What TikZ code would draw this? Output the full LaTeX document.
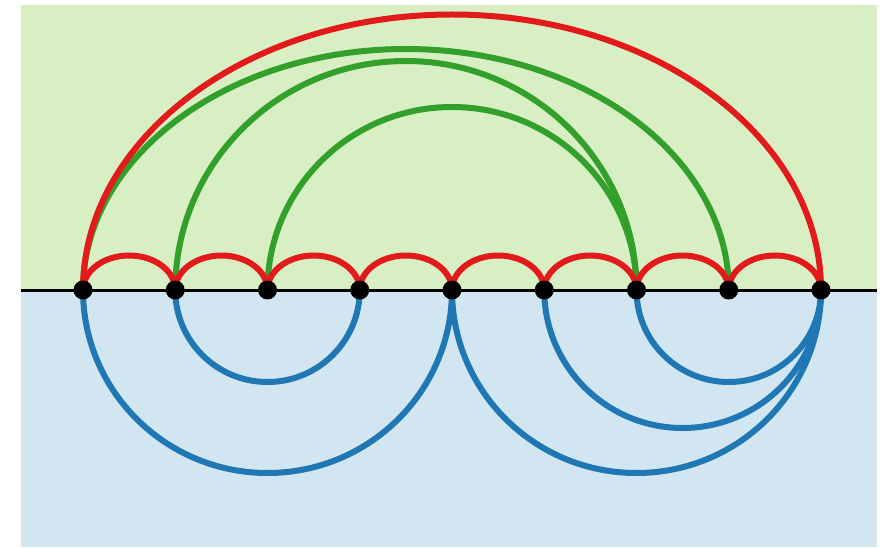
\documentclass[tikz,border=0pt]{standalone}
\begin{document}
\begin{tikzpicture}[x=1pt,y=1pt,
  redarc/.style={draw={rgb,255:red,227;green,26;blue,28},line width=6pt},
  greenarc/.style={draw={rgb,255:red,51;green,160;blue,44},line width=6pt},
  bluearc/.style={draw={rgb,255:red,31;green,120;blue,180},line width=6pt},
  pt/.style={circle,fill=black,inner sep=0pt,minimum size=19pt}]
\useasboundingbox (0,0) rectangle (894,547);
\fill[fill={rgb,255:red,216;green,239;blue,196}] (21,257) rectangle (877,542);
\fill[fill={rgb,255:red,210;green,230;blue,241}] (21,0) rectangle (877,257);
\coordinate (L) at (21,257);
\coordinate (R) at (877,257);
\draw[line width=3pt,black] (L) -- (R);
\foreach \i in {0,...,8} {
  \coordinate (c\i) at ({83+92.25*\i},257);
}
% green arcs
\draw[greenarc] (c0) arc[start angle=180,end angle=0,x radius=322.875,y radius=241];
\draw[greenarc] (c1) arc[start angle=180,end angle=0,x radius=230.625,y radius=229];
\draw[greenarc] (c2) arc[start angle=180,end angle=0,x radius=184.5,y radius=183];
% red arcs
\draw[redarc] (c0) arc[start angle=180,end angle=0,x radius=369,y radius=275.5];
\foreach \i in {0,...,7} {
  \draw[redarc] (c\i) arc[start angle=180,end angle=0,x radius=46.125,y radius=34.5];
}
% blue arcs
\draw[bluearc] (c0) arc[start angle=180,end angle=360,x radius=184.5,y radius=183];
\draw[bluearc] (c1) arc[start angle=180,end angle=360,x radius=92.25,y radius=92];
\draw[bluearc] (c4) arc[start angle=180,end angle=360,x radius=184.5,y radius=183];
\draw[bluearc] (c5) arc[start angle=180,end angle=360,x radius=138.375,y radius=138];
\draw[bluearc] (c6) arc[start angle=180,end angle=360,x radius=92.25,y radius=92];
% points
\foreach \i in {0,...,8} {
  \node[pt] (p\i) at (c\i) {};
}
\end{tikzpicture}
\end{document}
